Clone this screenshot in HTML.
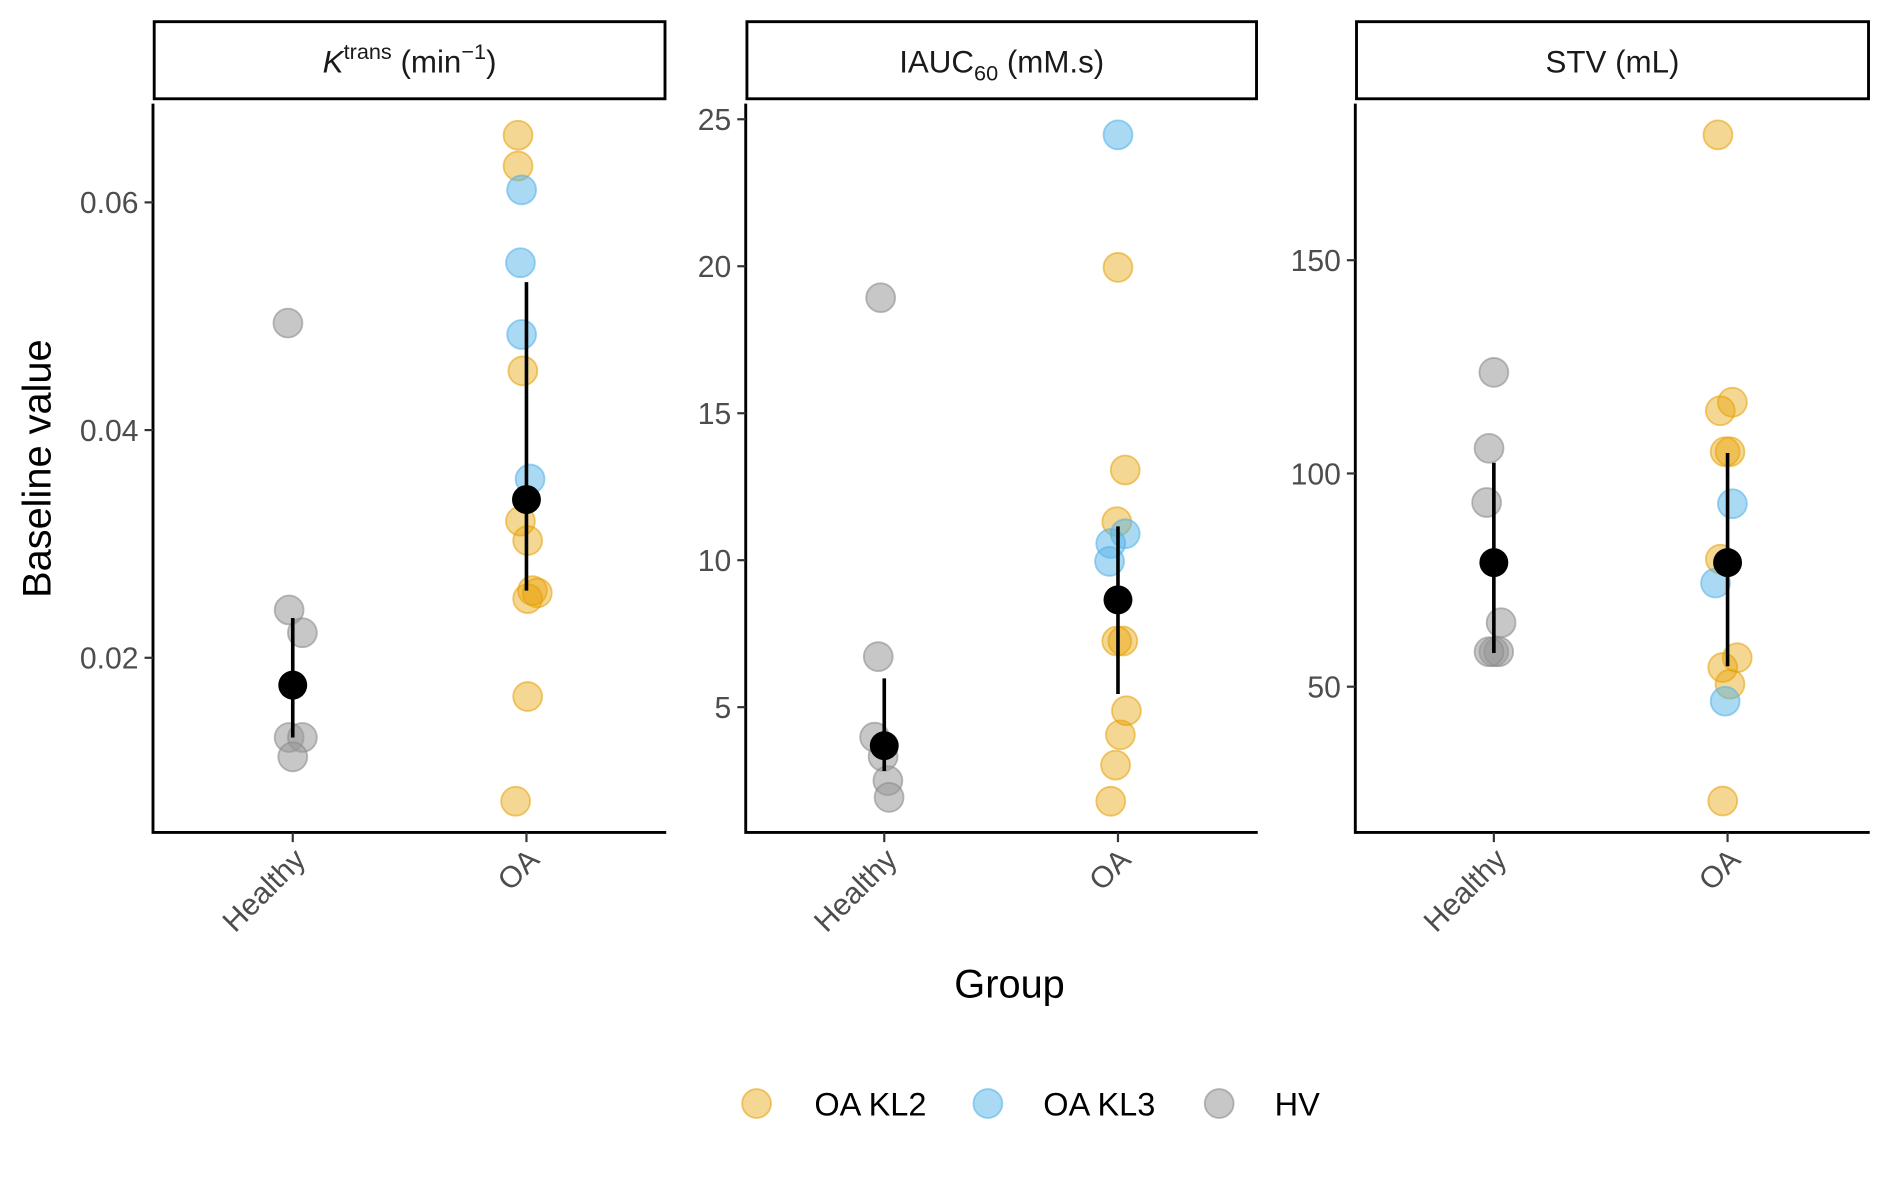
<!DOCTYPE html>
<html><head><meta charset="utf-8">
<style>
html,body{margin:0;padding:0;background:#fff;}
svg{display:block;font-family:"Liberation Sans",Arial,sans-serif;}
</style></head>
<body>
<svg id="chart" width="1889" height="1181" viewBox="0 0 1568 980.3" preserveAspectRatio="none" xmlns="http://www.w3.org/2000/svg"></svg>
<script>
// ---- data ----
const groups = ["Healthy","OA"];
const panelTitles = ["Ktrans","IAUC60","STV"];
const k_healthy = [0.0494,0.0242,0.0222,0.0130,0.0130,0.0113];
const k_healthy_cls = ["HV","HV","HV","HV","HV","HV"];
const k_oa = [0.0659,0.0632,0.0611,0.0547,0.0484,0.0452,0.0357,0.0320,0.0303,0.0259,0.0257,0.0252,0.0166,0.0074];
const k_oa_cls = ["KL2","KL2","KL3","KL3","KL3","KL2","KL3","KL2","KL2","KL2","KL2","KL2","KL2","KL2"];
const k_means = [0.0176,0.0339];
const k_lo = [0.0130,0.0259];
const k_hi = [0.0235,0.0530];
const k_ticks = [0.02,0.04,0.06];
const k_tickLabels = ["0.02","0.04","0.06"];

const i_healthy = [18.93,6.72,3.98,3.32,2.50,1.93];
const i_healthy_cls = ["HV","HV","HV","HV","HV","HV"];
const i_oa = [24.47,19.96,13.07,11.31,10.90,10.57,9.96,7.25,7.25,4.88,4.06,3.03,1.80];
const i_oa_cls = ["KL3","KL2","KL2","KL2","KL3","KL3","KL3","KL2","KL2","KL2","KL2","KL2","KL2"];
const i_means = [3.69,8.65];
const i_lo = [2.83,5.45];
const i_hi = [5.98,11.15];
const i_ticks = [5,10,15,20,25];
const i_tickLabels = ["5","10","15","20","25"];

const s_healthy = [123.7,105.9,93.2,65.0,58.2,58.2,58.2];
const s_healthy_cls = ["HV","HV","HV","HV","HV","HV","HV"];
const s_oa = [179.4,116.7,114.7,105.1,105.1,92.9,79.9,74.3,56.8,54.5,50.6,46.6,23.2];
const s_oa_cls = ["KL2","KL2","KL2","KL2","KL2","KL3","KL2","KL3","KL2","KL2","KL2","KL3","KL2"];
const s_means = [79.1,79.1];
const s_lo = [57.9,54.8];
const s_hi = [102.5,104.8];
const s_ticks = [50,100,150];
const s_tickLabels = ["50","100","150"];

// jitter (horizontal offsets, px)
const jit_k = [[-4,-3,8,-3,8,0],[-7,-7,-4,-5,-4,-3,3,-5,1,5,9,1,1,-9]];
const jit_i = [[-3,-5,-8,-1,3,4],[0,0,6,-1,6,-6,-7,-1,4,7,2,-2,-6]];
const jit_s = [[0,-4,-6,6,0,4,-4],[-8,4,-6,-2,2,4,-6,-10,8,-4,2,-2,-4]];

// ---- layout ----
const NS="http://www.w3.org/2000/svg";
const svg=document.getElementById('chart');
function el(tag,attrs,parent){const e=document.createElementNS(NS,tag);for(const k in attrs)e.setAttribute(k,attrs[k]);(parent||svg).appendChild(e);return e;}
const fill={KL2:"rgba(230,159,0,0.42)",KL3:"rgba(86,180,233,0.5)",HV:"rgba(153,153,153,0.55)"};
const stroke={KL2:"rgba(230,159,0,0.55)",KL3:"rgba(86,180,233,0.6)",HV:"rgba(140,140,140,0.6)"};

const panels=[
 {x0:127,x1:553,gx:[243,437],v0:0.06,y0:168,v1:0.02,y1:546,pts:[k_healthy,k_oa],cls:[k_healthy_cls,k_oa_cls],jit:jit_k,m:k_means,lo:k_lo,hi:k_hi,ticks:k_ticks,tl:k_tickLabels,name:"ktrans"},
 {x0:619,x1:1044,gx:[734,928],v0:25,y0:99,v1:5,y1:587,pts:[i_healthy,i_oa],cls:[i_healthy_cls,i_oa_cls],jit:jit_i,m:i_means,lo:i_lo,hi:i_hi,ticks:i_ticks,tl:i_tickLabels,name:"iauc60"},
 {x0:1125,x1:1552,gx:[1240,1434],v0:150,y0:216,v1:50,y1:570,pts:[s_healthy,s_oa],cls:[s_healthy_cls,s_oa_cls],jit:jit_s,m:s_means,lo:s_lo,hi:s_hi,ticks:s_ticks,tl:s_tickLabels,name:"stv"}
];
const plotTop=86, plotBot=691;

panels.forEach((p,pi)=>{
 const y=v=>p.y0+(v-p.v0)*(p.y1-p.y0)/(p.v1-p.v0);
 const g=el('g',{});
 
 
 const strip=el('rect',{x:p.x0+1,y:18,width:p.x1-p.x0-2,height:64,fill:"#fff",stroke:"#000","stroke-width":2.4},g);
 
 
 const cx=(p.x0+p.x1)/2;
 const t=el('text',{x:cx,y:60,"text-anchor":"middle","font-size":26,fill:"#1a1a1a"},g);
 
 
 if(pi===0){t.innerHTML='<tspan font-style="italic">K</tspan><tspan dy="-11" font-size="18">trans</tspan><tspan dy="11"> (min</tspan><tspan dy="-11" font-size="18">−1</tspan><tspan dy="11">)</tspan>';}
 else if(pi===1){t.innerHTML='IAUC<tspan dy="7" font-size="18">60</tspan><tspan dy="-7"> (mM.s)</tspan>';}
 else t.textContent='STV (mL)';
 const ax=el('path',{d:`M${p.x0} ${plotTop} V${plotBot} H${p.x1}`,fill:"none",stroke:"#000","stroke-width":2.4},g);
 
 
 p.ticks.forEach((v,i)=>{
  el('line',{x1:p.x0-7,x2:p.x0,y1:y(v),y2:y(v),stroke:"#333","stroke-width":1.8},g);
  const tl=el('text',{x:p.x0-12,y:y(v)+9,"text-anchor":"end","font-size":25,fill:"#4d4d4d"},g);
  tl.textContent=p.tl[i];
  
  
 });
 groups.forEach((gname,gi)=>{
  const gx=p.gx[gi];
  el('line',{x1:gx,x2:gx,y1:plotBot,y2:plotBot+8,stroke:"#333","stroke-width":1.8},g);
  const xl=el('text',{x:0,y:0,"text-anchor":"end","font-size":25,fill:"#4d4d4d",transform:`translate(${gx+12},${plotBot+24}) rotate(-45)`},g);
  xl.textContent=gname;
  
  
  p.pts[gi].forEach((v,j)=>{
   const c=p.cls[gi][j];
   const d=el('circle',{cx:gx+p.jit[gi][j],cy:y(v),r:12,fill:fill[c],stroke:stroke[c],"stroke-width":1.5},g);
   
   
  });
  const eb=el('line',{x1:gx,x2:gx,y1:y(p.hi[gi]),y2:y(p.lo[gi]),stroke:"#000","stroke-width":3},g);
  
  
  const md=el('circle',{cx:gx,cy:y(p.m[gi]),r:12,fill:"#000"},g);
  
  
 });
});
const yt=el('text',{x:0,y:0,"text-anchor":"middle","font-size":33,fill:"#000",transform:"translate(42,389) rotate(-90)"});
yt.textContent='Baseline value';


const xt=el('text',{x:838,y:828,"text-anchor":"middle","font-size":33,fill:"#000"});
xt.textContent='Group';


const legItems=[["KL2","OA KL2",628,676],["KL3","OA KL3",820,866],["HV","HV",1012,1058]];
legItems.forEach(it=>{
 const c=el('circle',{cx:it[2],cy:916,r:12,fill:fill[it[0]],stroke:stroke[it[0]],"stroke-width":1.5});
 
 
 const t=el('text',{x:it[3],y:926,"font-size":27,fill:"#000"});
 t.textContent=it[1];
 
 
});
</script>
</body></html>
